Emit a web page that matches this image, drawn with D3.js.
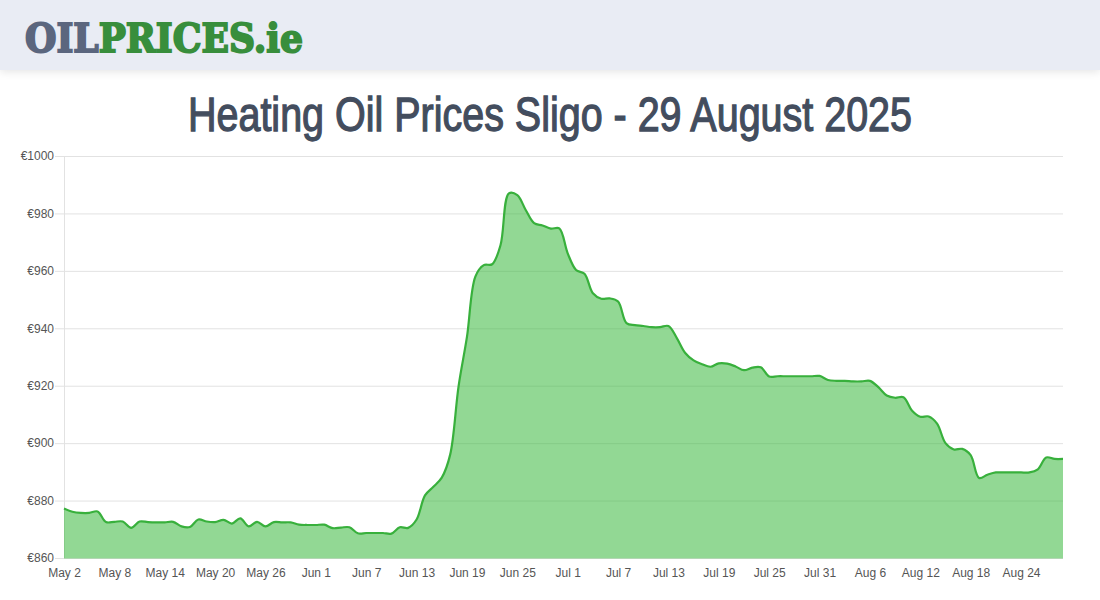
<!DOCTYPE html>
<html>
<head>
<meta charset="utf-8">
<title>Heating Oil Prices Sligo</title>
<script src="https://cdn.jsdelivr.net/npm/d3@7"></script>
<style>
body { margin: 0; background: #fff; overflow: hidden; }
svg { display: block; }
</style>
</head>
<body>
<svg id="mySvg" width="1100" height="600"></svg>
<script>
//chart values, one price per day from May 2 to Aug 29
var prices = [
    877.2, 876.1, 875.7, 875.7, 876.2, 872.5, 872.6, 872.7, 870.5, 872.7,
    872.5, 872.4, 872.4, 872.6, 871.0, 870.8, 873.4, 872.7, 872.5, 873.3,
    872.0, 873.8, 871.0, 872.6, 871.0, 872.5, 872.4, 872.4, 871.6, 871.5,
    871.5, 871.6, 870.4, 870.6, 870.7, 868.6, 868.7, 868.7, 868.7, 868.5,
    870.7, 870.5, 873.4, 881.8, 884.8, 888.0, 896.0, 919.8, 937.0, 958.0,
    962.0, 962.3, 969.0, 987.0, 986.4, 981.2, 976.6, 975.8, 974.7, 974.8,
    966.1, 960.3, 959.0, 952.2, 950.3, 950.4, 949.3, 941.8, 941.1, 940.8,
    940.4, 940.4, 940.8, 936.6, 931.4, 928.8, 927.5, 926.6, 927.8, 927.7,
    926.7, 925.4, 926.3, 926.4, 923.2, 923.3, 923.3, 923.3, 923.3, 923.3,
    923.4, 922.0, 921.7, 921.7, 921.5, 921.5, 921.7, 919.5, 916.6, 915.8,
    916.0, 911.4, 909.2, 909.3, 906.8, 900.0, 897.8, 898.0, 895.8, 887.9,
    889.0, 889.8, 889.8, 889.8, 889.8, 889.8, 890.9, 895.0, 894.5, 894.5
];
var dayTicks = [0, 6, 12, 18, 24, 30, 36, 42, 48, 54, 60, 66, 72, 78, 84, 90, 96, 102, 108, 114];
var dayLabels = ["May 2", "May 8", "May 14", "May 20", "May 26", "Jun 1", "Jun 7", "Jun 13", "Jun 19", "Jun 25",
    "Jul 1", "Jul 7", "Jul 13", "Jul 19", "Jul 25", "Jul 31", "Aug 6", "Aug 12", "Aug 18", "Aug 24"];
var priceTicks = [860, 880, 900, 920, 940, 960, 980, 1000];
var titleText = "Heating Oil Prices Sligo - 29 August 2025";

var svg = d3.select("#mySvg");
var labelFont = "'Liberation Sans', Arial, sans-serif";

//header band with a soft shadow under it
var shadow = svg.append("defs").append("filter")
    .attr("id", "headShadow")
    .attr("x", "-5%").attr("y", "-20%").attr("width", "110%").attr("height", "150%");
shadow.append("feDropShadow")
    .attr("dx", 0).attr("dy", 2).attr("stdDeviation", 4)
    .attr("flood-color", "#000").attr("flood-opacity", 0.1);

svg.append("rect")
    .attr("width", 1100).attr("height", 70)
    .attr("fill", "#e9ecf4")
    .attr("filter", "url(#headShadow)");

//logo, thickened with a stroke to get the heavy slab look
var logo = svg.append("text")
    .attr("x", 25).attr("y", 52)
    .attr("font-family", "'DejaVu Serif', serif")
    .attr("font-weight", "bold")
    .attr("font-size", 40)
    .attr("stroke-width", 2)
    .attr("textLength", 278)
    .attr("lengthAdjust", "spacingAndGlyphs");
logo.append("tspan").attr("fill", "#5b667e").attr("stroke", "#5b667e").text("OIL");
logo.append("tspan").attr("fill", "#388e3c").attr("stroke", "#388e3c").text("PRICES.ie");

//page title
svg.append("text")
    .attr("x", 188).attr("y", 131)
    .attr("font-family", "'Liberation Sans Narrow', 'Liberation Sans', sans-serif")
    .attr("font-size", 49)
    .attr("fill", "#434d5e")
    .attr("stroke", "#434d5e")
    .attr("stroke-width", 1.3)
    .attr("textLength", 724)
    .attr("lengthAdjust", "spacingAndGlyphs")
    .text(titleText);

//scales
var x = d3.scaleLinear().domain([0, prices.length - 1]).range([64, 1063]);
var y = d3.scaleLinear().domain([860, 1000]).range([558, 156]);

//y axis, the ticks are stretched to make the grid
var yAxis = svg.append("g")
    .attr("transform", "translate(64,0)")
    .call(d3.axisLeft(y)
        .tickValues(priceTicks)
        .tickSize(0)
        .tickPadding(10)
        .tickFormat(function(d) { return "€" + d; }));
yAxis.select(".domain").attr("stroke", "#e2e2e2");
yAxis.selectAll(".tick line")
    .attr("x1", -9)
    .attr("x2", 1063 - 64)
    .attr("stroke", "#e2e2e2");
yAxis.selectAll("text")
    .attr("font-family", labelFont)
    .attr("font-size", 12)
    .attr("fill", "#555");

//x axis has labels only
var xAxis = svg.append("g")
    .attr("transform", "translate(0,558)")
    .call(d3.axisBottom(x)
        .tickValues(dayTicks)
        .tickSize(0)
        .tickPadding(10)
        .tickFormat(function(d, i) { return dayLabels[i]; }));
xAxis.select(".domain").remove();
xAxis.selectAll("text")
    .attr("font-family", labelFont)
    .attr("font-size", 12)
    .attr("fill", "#555");

//price area and line
var smooth = d3.curveCatmullRom.alpha(0.5);
var area = d3.area()
    .curve(smooth)
    .x(function(d, i) { return x(i); })
    .y0(y(860) + 0.5)
    .y1(function(d) { return y(d); });
var line = d3.line()
    .curve(smooth)
    .x(function(d, i) { return x(i); })
    .y(function(d) { return y(d); });

svg.append("path")
    .attr("d", area(prices))
    .attr("fill", "rgb(56,184,60)")
    .attr("fill-opacity", 0.55);
svg.append("path")
    .attr("d", line(prices))
    .attr("fill", "none")
    .attr("stroke", "#38b03c")
    .attr("stroke-width", 2.2);
</script>
</body>
</html>
